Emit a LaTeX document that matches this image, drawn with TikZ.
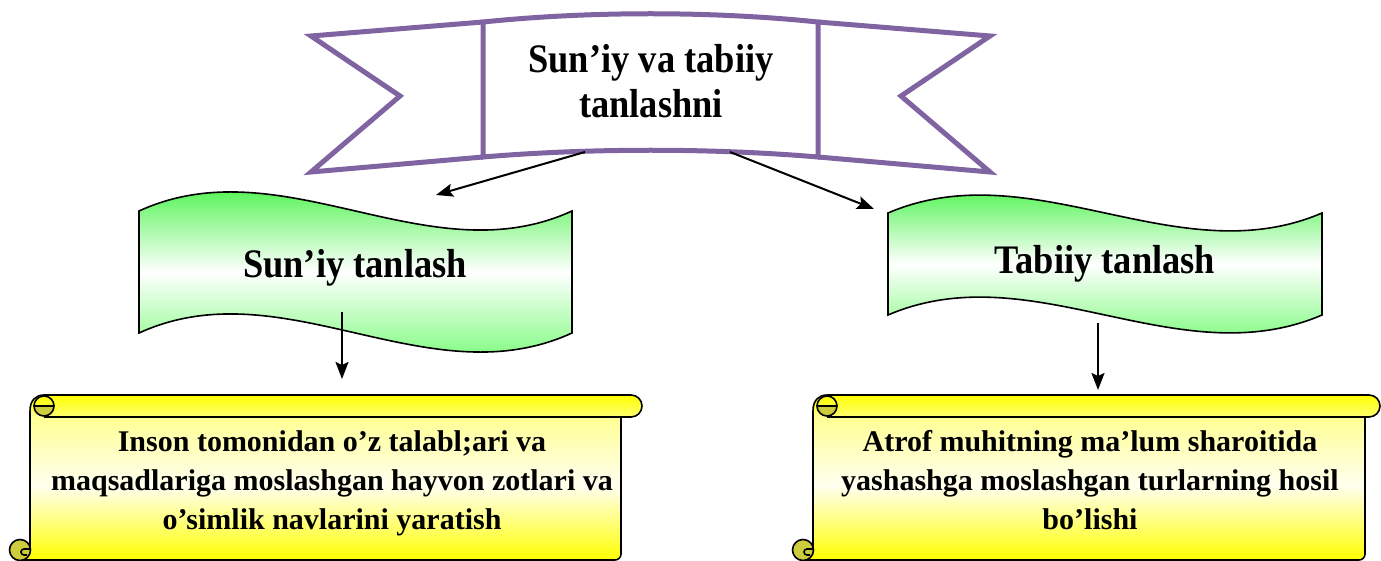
\documentclass[tikz,border=0pt]{standalone}
\usepackage{fontspec}
\setmainfont{Liberation Serif}
\newfontfamily\tallserif{Liberation Serif}[FakeStretch=0.9]
\usetikzlibrary{arrows.meta}

\definecolor{ribbonpurple}{RGB}{128,100,162}
\definecolor{bannergreen}{RGB}{0,238,0}
\definecolor{bannergreenb}{RGB}{70,250,70}
\definecolor{scrollyellow}{RGB}{255,255,0}
\definecolor{curldark}{RGB}{204,204,60}

% wave banner: left, top, right, bottom, wave height
\newcommand\wavebanner[5]{%
  \draw[bannerline, top color=bannergreen, bottom color=bannergreenb, middle color=white]
    (#1,#2) .. controls ({#1+(#3-#1)/3},{#2-#5}) and ({#1+2*(#3-#1)/3},{#2+#5}) .. (#3,#2)
    -- (#3,#4) .. controls ({#1+2*(#3-#1)/3},{#4+#5}) and ({#1+(#3-#1)/3},{#4-#5}) .. (#1,#4)
    -- cycle;}

% scroll: body left, roll top, body right, roll right, bottom
\newcommand\scrollshape[5]{%
  \draw[bannerline, top color=scrollyellow!45, bottom color=scrollyellow, middle color=scrollyellow!6]
    (#1,{#2+16}) -- (#1,{#5-10}) arc[start angle=0, end angle=90, radius=10]
    -- ({#3-6},#5) arc[start angle=90, end angle=0, radius=6] -- (#3,{#2+22});
  \draw[bannerline, top color=scrollyellow, bottom color=scrollyellow!55]
    (#1,{#2+16}) .. controls (#1,{#2+5}) and ({#1+6},#2) .. ({#1+14},#2)
    -- ({#4-11},#2) arc[start angle=-90, end angle=90, radius=11] -- ({#1+14},{#2+22});
  \filldraw[bannerline, fill=curldark] ({#1+24},{#2+11}) arc[start angle=0, end angle=180, radius=10] -- cycle;
  \draw[bannerline] ({#1+4},{#2+11}) arc[start angle=180, end angle=360, radius=10];
  \filldraw[bannerline, fill=curldark] ({#1-10},{#5-10}) circle (10.5);
  \draw[bannerline] (#1,{#5-11}) -- ({#1-6},{#5-11}) arc[start angle=270, end angle=90, radius=3] -- ({#1-3},{#5-5});}

\begin{document}
\begin{tikzpicture}[x=1pt, y=-1pt,
  bannerline/.style={draw=black, line width=1.6pt},
  ribbonline/.style={draw=ribbonpurple, line width=5pt, line join=miter},
  bigtext/.style={font=\tallserif\bfseries\fontsize{40.5}{45}\selectfont, align=center, inner sep=0pt},
  smalltext/.style={font=\bfseries\fontsize{30}{39}\selectfont, align=center, inner sep=0pt},
  arrow/.style={-{Stealth[length=17pt,width=13pt,inset=3pt]}, line width=2pt}]
  \useasboundingbox (0,0) rectangle (1381,561);

  % top ribbon
  \draw[ribbonline] (483,22) -- (311,36) -- (400,96) -- (311,172) -- (483,157);
  \draw[ribbonline] (818,22) -- (990,36) -- (901,96) -- (990,172) -- (818,157);
  \draw[ribbonline, fill=white] (483,22) .. controls (590,11) and (711,11) .. (818,22)
    -- (818,157) .. controls (711,148) and (590,148) .. (483,157) -- cycle;
  \node[bigtext] (selection) at (651,81) {Sun’iy va tabiiy\\tanlashni};

  % green banners
  \wavebanner{139}{211}{572}{333}{66}
  \wavebanner{888}{213}{1322}{315}{62}
  \node[bigtext] (artificial) at (355,268) {Sun’iy tanlash};
  \node[bigtext] (natural) at (1105,264) {Tabiiy tanlash};

  % scrolls
  \scrollshape{30}{395}{621}{642}{560}
  \scrollshape{813}{395}{1365}{1380}{560}
  \node[smalltext] (artificialinfo) at (332,483.5)
    {Inson tomonidan o’z talabl;ari va\\maqsadlariga moslashgan hayvon zotlari va\\o’simlik navlarini yaratish};
  \node[smalltext] (naturalinfo) at (1090,480.5)
    {Atrof muhitning ma’lum sharoitida\\yashashga moslashgan turlarning hosil\\bo’lishi};

  % connectors
  \coordinate (selectionL) at (585,152);
  \coordinate (selectionR) at (730,152);
  \coordinate (artificialtop) at (436,195);
  \coordinate (naturaltop) at (874,209);
  \coordinate (artificialbot) at (342,312);
  \coordinate (naturalbot) at (1098,323);
  \coordinate (artificialinfotop) at (342,379);
  \coordinate (naturalinfotop) at (1098,390);

  \draw[arrow] (selectionL) -- (artificialtop);
  \draw[arrow] (selectionR) -- (naturaltop);
  \draw[arrow] (artificialbot) -- (artificialinfotop);
  \draw[arrow] (naturalbot) -- (naturalinfotop);
\end{tikzpicture}
\end{document}
